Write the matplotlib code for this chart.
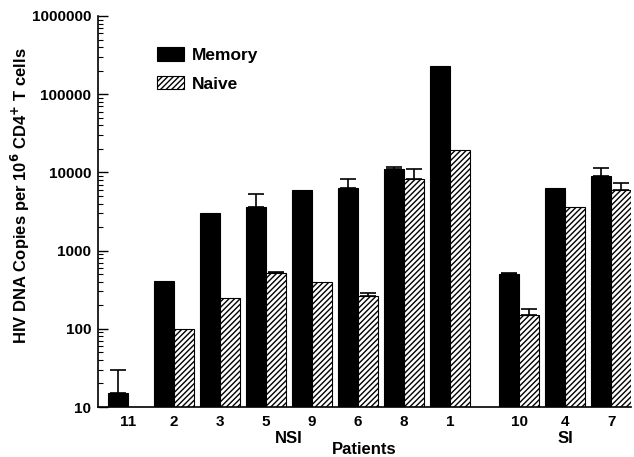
import matplotlib
matplotlib.use('Agg')
import matplotlib.pyplot as plt
import numpy as np

plt.rcParams['font.family'] = ['Liberation Sans', 'DejaVu Sans']
plt.rcParams['font.weight'] = 'bold'
plt.rcParams['hatch.linewidth'] = 1.0

# Data
patients = ['11', '2', '3', '5', '9', '6', '8', '1', '10', '4', '7']
memory = [15, 410, 3050, 3600, 5900, 6300, 11000, 230000, 500, 6300, 9000]
naive = [10, 100, 245, 510, 400, 265, 8300, 19500, 150, 3600, 5900]
memory_err_top = [30, np.nan, np.nan, 5300, np.nan, 8200, 11800, np.nan, 515, np.nan, 11500]
naive_err_top = [np.nan, np.nan, np.nan, 540, np.nan, 285, 11000, np.nan, 180, np.nan, 7400]
group_names = ['NSI', 'SI']
group_members = [8, 3]

# positions: gap between the NSI and SI groups
pos = np.array(list(range(8)) + [8.5, 9.5, 10.5])
w = 0.43

fig = plt.figure(figsize=(6.34, 4.57), dpi=100)
ax = fig.add_axes([0.1546, 0.1094, 0.8407, 0.8556])

ax.bar(pos - w / 2, memory, width=w, color='black', edgecolor='black',
       linewidth=0.8, label='Memory', zorder=2)
ax.bar(pos + w / 2, naive, width=w, color='white', edgecolor='black',
       linewidth=0.8, hatch='//////', label='Naive', zorder=2)

for offs, vals, tops in [(-w / 2, memory, memory_err_top), (w / 2, naive, naive_err_top)]:
    vals = np.array(vals, dtype=float)
    tops = np.array(tops, dtype=float)
    m = ~np.isnan(tops)
    up = tops[m] - vals[m]
    ax.errorbar(pos[m] + offs, vals[m], yerr=[np.zeros_like(up), up], fmt='none',
                ecolor='black', elinewidth=1.2, capsize=5.5, capthick=1.2, zorder=3)

ax.set_yscale('log')
ax.set_ylim(10, 1000000)
ax.set_xlim(-0.65, 10.93)
ax.set_yticks([10, 100, 1000, 10000, 100000, 1000000])
ax.set_yticklabels(['10', '100', '1000', '10000', '100000', '1000000'])
ax.tick_params(axis='y', which='major', direction='in', length=7, width=1,
               labelsize=11, pad=5)
ax.tick_params(axis='y', which='minor', direction='in', length=3.5, width=0.8)
ax.set_xticks(pos)
ax.set_xticklabels(patients, fontsize=11)
ax.tick_params(axis='x', length=0, pad=6)

for s in ['top', 'right']:
    ax.spines[s].set_visible(False)
for s in ['left', 'bottom']:
    ax.spines[s].set_linewidth(1.2)

fig.text(20 / 634, 1 - 196 / 457,
         'HIV DNA Copies per 10$^{\\mathbf{6}}$ CD4$^{\\mathbf{+}}$ T cells',
         rotation=90, ha='center', va='center', fontsize=12, fontweight='bold')
ax.set_xlabel('Patients', fontsize=12, fontweight='bold')
ax.xaxis.set_label_coords(0.5, -0.09)

# group labels
start = 0
for name, n in zip(group_names, group_members):
    center = pos[start:start + n].mean()
    ax.text(center, -0.08, name, transform=ax.get_xaxis_transform(),
            ha='center', va='center', fontsize=12, fontweight='bold')
    start += n

ax.legend(loc='upper left', bbox_to_anchor=(0.111, 0.92), frameon=False,
          borderpad=0, borderaxespad=0, handlelength=1.55, handleheight=0.8,
          handletextpad=0.45, labelspacing=0.75,
          prop={'weight': 'bold', 'size': 12.5})

fig.savefig('out.png', dpi=100, facecolor='white')
